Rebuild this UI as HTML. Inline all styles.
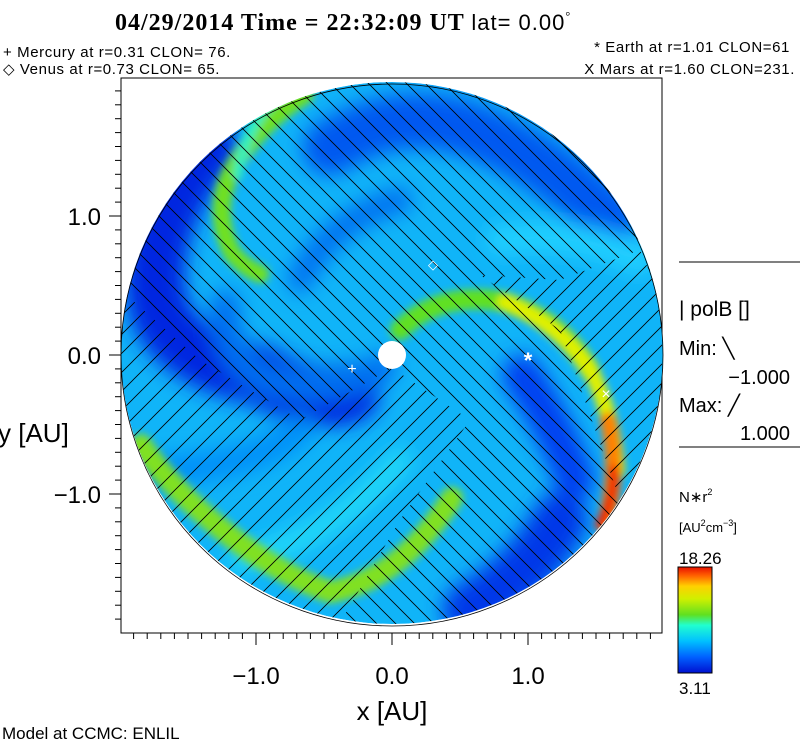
<!DOCTYPE html>
<html><head><meta charset="utf-8"><style>
html,body{margin:0;padding:0;background:#fff;}
svg{display:block;font-family:"Liberation Sans",sans-serif;}
</style></head><body>
<svg id="s" width="800" height="746" viewBox="0 0 800 746">
<defs>
<clipPath id="cc"><circle cx="392" cy="353" r="271"/></clipPath>
<filter id="bl" x="-30%" y="-30%" width="160%" height="160%"><feGaussianBlur stdDeviation="10"/></filter>
<filter id="bl2" x="-30%" y="-30%" width="160%" height="160%"><feGaussianBlur stdDeviation="4"/></filter>
<pattern id="hb" width="19" height="19" patternUnits="userSpaceOnUse"><path d="M-2,-2 L21,21 M-21,-2 L2,21 M17,-2 L40,21" stroke="#000" stroke-width="0.8"/></pattern>
<pattern id="hf" width="19" height="19" patternUnits="userSpaceOnUse"><path d="M-2,21 L21,-2 M-21,21 L2,-2 M17,21 L40,-2" stroke="#000" stroke-width="0.8"/></pattern>
<mask id="mb"><rect x="0" y="0" width="800" height="746" fill="#fff"/>
<polygon points="121,290 200,360 300,420 392,368 470,420 400,520 330,640 121,640" fill="#000"/>
<polygon points="480,275 560,280 640,250 662,300 662,520 620,500 560,330" fill="#000"/></mask>
<linearGradient id="cb" x1="0" y1="1" x2="0" y2="0">
<stop offset="0" stop-color="#0010d0"/><stop offset="0.15" stop-color="#0060ff"/><stop offset="0.3" stop-color="#00c0ff"/><stop offset="0.45" stop-color="#20ffd0"/><stop offset="0.55" stop-color="#60e020"/><stop offset="0.7" stop-color="#d0f000"/><stop offset="0.82" stop-color="#ffd000"/><stop offset="0.92" stop-color="#ff6000"/><stop offset="1" stop-color="#e81000"/>
</linearGradient>
</defs>

<text x="115" y="30" font-family="'Liberation Serif',serif" font-size="24" font-weight="bold" letter-spacing="1">04/29/2014 Time = 22:32:09 UT <tspan font-family="'Liberation Sans',sans-serif" font-weight="normal" font-size="22" letter-spacing="1">lat= 0.00</tspan><tspan font-size="12" dy="-10" font-weight="normal">°</tspan></text>
<text x="3" y="57" font-size="15" letter-spacing="0.6">+ Mercury at r=0.31 CLON= 76.</text>
<text x="3" y="74" font-size="15" letter-spacing="0.6">◇ Venus at r=0.73 CLON= 65.</text>
<text x="790" y="52" font-size="15" letter-spacing="0.6" text-anchor="end">* Earth at  r=1.01 CLON=61</text>
<text x="795" y="74" font-size="15" letter-spacing="0.6" text-anchor="end">X Mars at r=1.60 CLON=231.</text>

<rect x="121" y="78" width="541" height="555" fill="none" stroke="#000" stroke-width="1"/>

<g clip-path="url(#cc)">
<circle cx="392" cy="353" r="271" fill="#10b4f8"/>
<g filter="url(#bl)" fill="none" stroke-linecap="round">
<path d="M330,148 Q400,105 470,130 T610,218" stroke="#0058f0" stroke-width="55"/>
<path d="M207,148 Q150,220 155,288 T260,375 Q310,405 350,393" stroke="#0028e0" stroke-width="60"/>
<path d="M382,368 Q330,395 277,382 T225,305" stroke="#0070f0" stroke-width="30"/>
<path d="M300,280 Q330,220 400,200" stroke="#0070f0" stroke-width="25"/>
<path d="M522,375 Q557,428 575,480" stroke="#0040f0" stroke-width="40"/>
<path d="M470,610 Q530,575 560,520" stroke="#0038e8" stroke-width="55"/>
<path d="M150,470 Q250,470 300,430" stroke="#0090f8" stroke-width="30"/>
<path d="M500,240 Q580,230 640,260" stroke="#20d0ff" stroke-width="30"/>
<path d="M240,560 Q330,540 400,460" stroke="#20d8f8" stroke-width="25"/>
</g>
<g filter="url(#bl2)" fill="none" stroke-linecap="round">
<path d="M305,95 Q260,123 235,165 T232,253 Q245,268 260,274" stroke="#70e020" stroke-width="18"/>
<path d="M280,92 Q245,125 238,175" stroke="#30f0c0" stroke-width="10"/>
<path d="M141,445 Q172,490 225,532 T330,592 Q400,580 452,498" stroke="#80e020" stroke-width="22"/>
<path d="M400,330 Q440,290 505,302 Q560,320 590,370" stroke="#60e020" stroke-width="20"/>
<path d="M505,302 Q560,325 590,370 Q612,410 617,470" stroke="#e0f000" stroke-width="16"/>
<path d="M608,420 Q620,470 605,525" stroke="#ff8000" stroke-width="16"/>
<path d="M614,470 Q614,500 600,525" stroke="#f02000" stroke-width="10"/>
</g>
<rect x="121" y="78" width="541" height="555" fill="url(#hb)" mask="url(#mb)"/>
<g>
<polygon points="121,290 200,360 300,420 392,368 470,420 400,520 330,640 121,640" fill="url(#hf)"/>
<polygon points="480,275 560,280 640,250 662,300 662,520 620,500 560,330" fill="url(#hf)"/>
</g>
</g>
<circle cx="392" cy="355" r="271" fill="none" stroke="#000" stroke-width="0.8"/>
<circle cx="392" cy="355" r="14" fill="#fff"/>
<text x="352" y="374" fill="#fff" font-size="16" text-anchor="middle">+</text>
<text x="433" y="269" fill="#fff" font-size="13" text-anchor="middle">◇</text>
<text x="528" y="368" fill="#fff" font-size="22" font-weight="bold" text-anchor="middle">*</text>
<text x="606" y="399" fill="#fff" font-size="16" text-anchor="middle">×</text>

<g id="ax"></g>

<text x="392" y="720" font-size="26" text-anchor="middle">x [AU]</text>
<text x="-2" y="442" font-size="26">y [AU]</text>
<text x="2" y="739" font-size="17">Model at CCMC: ENLIL</text>

<line x1="679" y1="262" x2="800" y2="262" stroke="#000"/>
<text x="679" y="316" font-size="21">|  polB []</text>
<text x="679" y="355" font-size="20">Min: ╲</text>
<text x="790" y="384" font-size="20" text-anchor="end">−1.000</text>
<text x="679" y="412" font-size="20">Max: ╱</text>
<text x="790" y="440" font-size="20" text-anchor="end">1.000</text>
<line x1="679" y1="447" x2="800" y2="447" stroke="#000"/>
<text x="679" y="502" font-size="15">N∗r<tspan font-size="9" dy="-7">2</tspan></text>
<text x="679" y="532" font-size="13">[AU<tspan font-size="9" dy="-6">2</tspan><tspan dy="6">cm</tspan><tspan font-size="9" dy="-6">−3</tspan><tspan dy="6">]</tspan></text>
<text x="679" y="564" font-size="17">18.26</text>
<rect x="678" y="567" width="34" height="106" fill="url(#cb)" stroke="#000"/>
<text x="679" y="694" font-size="17">3.11</text>
</svg>
<script>
const xTickVals=[-1.0,0.0,1.0];
const yTickVals=[1.0,0.0,-1.0];
const xTickLabels=["\u22121.0","0.0","1.0"];
const yTickLabels=["1.0","0.0","\u22121.0"];
const NS="http://www.w3.org/2000/svg";
const ax=document.getElementById('ax');
const X=v=>392+v*136, Y=v=>355-v*139;
function ln(x1,y1,x2,y2,n){const l=document.createElementNS(NS,'line');l.setAttribute('x1',x1);l.setAttribute('y1',y1);l.setAttribute('x2',x2);l.setAttribute('y2',y2);l.setAttribute('stroke','#000');


ax.appendChild(l);}
for(let i=-20;i<=20;i++){const v=i/10;const x=X(v);if(x<=122||x>=661)continue;const maj=i%10===0;ln(x,633,x,633+(maj?12:6),'x-tick');}
for(let i=-20;i<=20;i++){const v=i/10;const y=Y(v);if(y<=79||y>=632)continue;const maj=i%10===0;ln(121,y,121-(maj?12:6),y,'y-tick');}
xTickVals.forEach((v,i)=>{const t=document.createElementNS(NS,'text');t.setAttribute('x',X(v));t.setAttribute('y',684);t.setAttribute('font-size','24');t.setAttribute('text-anchor','middle');t.textContent=xTickLabels[i];


ax.appendChild(t);});
yTickVals.forEach((v,i)=>{const t=document.createElementNS(NS,'text');t.setAttribute('x',101);t.setAttribute('y',Y(v)+9);t.setAttribute('font-size','24');t.setAttribute('text-anchor','end');t.textContent=yTickLabels[i];


ax.appendChild(t);});
</script>
</body></html>
